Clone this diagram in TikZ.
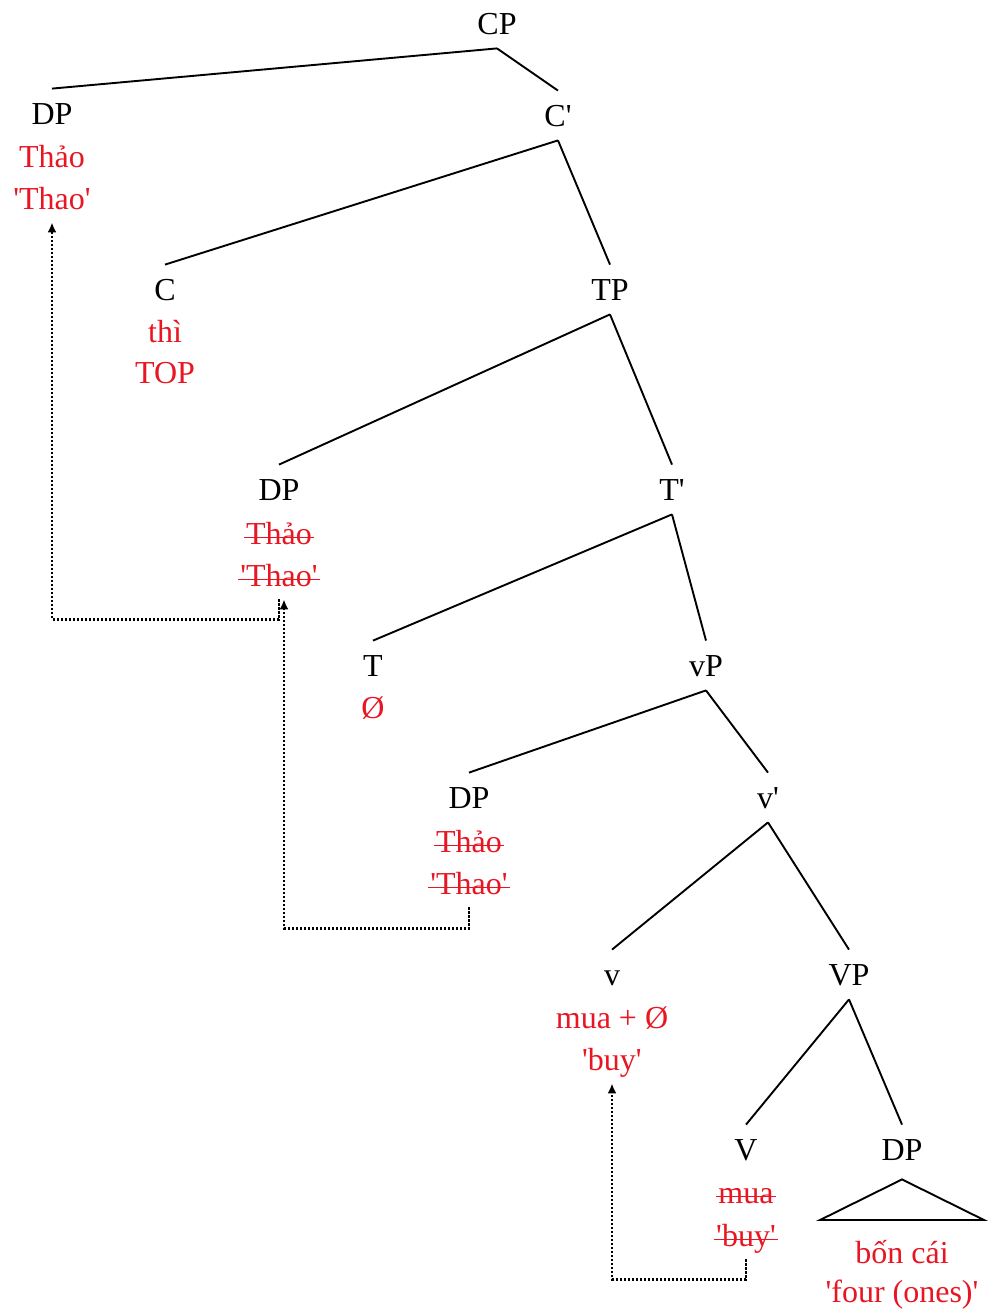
\documentclass[tikz,border=0pt]{standalone}
\usepackage{fontspec}
\setmainfont{Liberation Serif}[Ligatures=TeXOff]
\usetikzlibrary{arrows.meta}
\definecolor{glossred}{RGB}{232,22,34}
\begin{document}
\begin{tikzpicture}[x=0.5pt,y=-0.5pt,
  cat/.style={anchor=base,inner xsep=2pt,inner ysep=7pt,text height=10.5pt,text depth=0pt,
    font=\fontsize{16}{19}\selectfont},
  gloss/.style={anchor=base,inner xsep=1pt,inner ysep=3.5pt,text height=10.5pt,text depth=3pt,
    text=glossred,font=\fontsize{16}{19}\selectfont},
  branch/.style={line width=0.95pt},
  strike/.style={glossred,line width=0.8pt},
  move/.style={line width=1.1pt,dash pattern=on 1.1pt off 0.9pt,
    -{Latex[length=5pt,width=4.5pt]}}]
\useasboundingbox (0,0) rectangle (988,1313);

% category labels
\node[cat] (cp)    at (497,34)   {CP};
\node[cat] (dp1)   at (52,124)   {DP};
\node[cat] (cbar)  at (558,126)  {C'};
\node[cat] (c)     at (165,300)  {C};
\node[cat] (tp)    at (610,300)  {TP};
\node[cat] (dp2)   at (279,500)  {DP};
\node[cat] (tbar)  at (672,500)  {T'};
\node[cat] (t)     at (373,676)  {T};
\node[cat] (vp)    at (706,676)  {vP};
\node[cat] (dp3)   at (469,808)  {DP};
\node[cat] (vbar)  at (768,808)  {v'};
\node[cat] (v)     at (612,985)  {v};
\node[cat] (bigvp) at (849,985)  {VP};
\node[cat] (bigv)  at (746,1160) {V};
\node[cat] (dp4)   at (902,1160) {DP};

% words and glosses
\node[gloss] (dp1a)  at (52,167)   {Thảo};
\node[gloss] (dp1b)  at (52,209)   {'Thao'};
\node[gloss] (ca)    at (165,342)  {thì};
\node[gloss] (cb)    at (165,383)  {TOP};
\node[gloss] (dp2a)  at (279,544)  {Thảo};
\node[gloss] (dp2b)  at (279,586)  {'Thao'};
\node[gloss] (ta)    at (373,718)  {Ø};
\node[gloss] (dp3a)  at (469,852)  {Thảo};
\node[gloss] (dp3b)  at (469,894)  {'Thao'};
\node[gloss] (va)    at (612,1028) {mua + Ø};
\node[gloss] (vb)    at (612,1070) {'buy'};
\node[gloss] (bigva) at (746,1203) {mua};
\node[gloss] (bigvb) at (746,1246) {'buy'};
\node[gloss] (dp4a)  at (902,1263) {bốn cái};
\node[gloss] (dp4b)  at (902,1302) {'four (ones)'};

% struck-out copies
\foreach \n in {dp2a,dp2b,dp3a,dp3b,bigva,bigvb}
  \draw[strike] ([yshift=3.2pt]\n.base west) -- ([yshift=3.2pt]\n.base east);

% branches
\draw[branch] (cp.south)    -- (dp1.north);
\draw[branch] (cp.south)    -- (cbar.north);
\draw[branch] (cbar.south)  -- (c.north);
\draw[branch] (cbar.south)  -- (tp.north);
\draw[branch] (tp.south)    -- (dp2.north);
\draw[branch] (tp.south)    -- (tbar.north);
\draw[branch] (tbar.south)  -- (t.north);
\draw[branch] (tbar.south)  -- (vp.north);
\draw[branch] (vp.south)    -- (dp3.north);
\draw[branch] (vp.south)    -- (vbar.north);
\draw[branch] (vbar.south)  -- (v.north);
\draw[branch] (vbar.south)  -- (bigvp.north);
\draw[branch] (bigvp.south) -- (bigv.north);
\draw[branch] (bigvp.south) -- (dp4.north);

% unanalysed DP
\draw[branch,line join=miter] ([yshift=-2.5pt]dp4.south) -- (820,1220) -- (984,1220) -- cycle;

% movement arrows
\draw[move] (dp2b.south) -- ++(0,20) -| (dp1b.south);
\draw[move] (dp3b.south) -- ++(0,21) -| ([xshift=2.5pt]dp2b.south);
\draw[move] (bigvb.south) -- ++(0,20) -| (vb.south);
\end{tikzpicture}
\end{document}
